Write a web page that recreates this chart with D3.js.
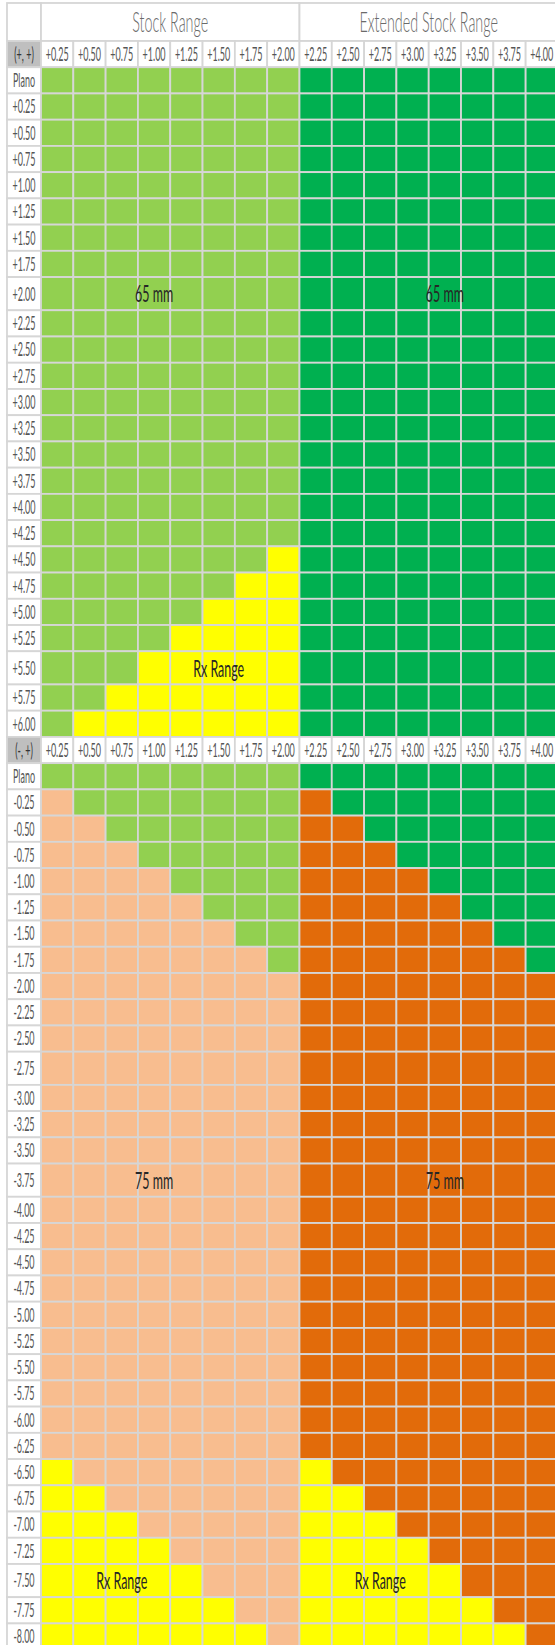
<!DOCTYPE html>
<html>
<head>
<meta charset="utf-8">
<script src="https://cdn.jsdelivr.net/npm/d3@7"></script>
<style>
  body { margin: 0; background: #fff; }
  svg { display: block; }
</style>
</head>
<body>
<div id="chart"></div>
<script>
// ---- data ----
const sectionTitles = ['Stock Range', 'Extended Stock Range'];
const stockCols = ['+0.25', '+0.50', '+0.75', '+1.00', '+1.25', '+1.50', '+1.75', '+2.00'];
const extendedCols = ['+2.25', '+2.50', '+2.75', '+3.00', '+3.25', '+3.50', '+3.75', '+4.00'];

// (+, +) block: one code per column, L = stock 65mm, G = extended 65mm, Y = Rx range
const plusHeader = '(+, +)';
const plusRows = ['Plano', '+0.25', '+0.50', '+0.75', '+1.00', '+1.25', '+1.50', '+1.75', '+2.00',
  '+2.25', '+2.50', '+2.75', '+3.00', '+3.25', '+3.50', '+3.75', '+4.00', '+4.25',
  '+4.50', '+4.75', '+5.00', '+5.25', '+5.50', '+5.75', '+6.00'];
const plusCells = [
  'LLLLLLLLGGGGGGGG', 'LLLLLLLLGGGGGGGG', 'LLLLLLLLGGGGGGGG', 'LLLLLLLLGGGGGGGG',
  'LLLLLLLLGGGGGGGG', 'LLLLLLLLGGGGGGGG', 'LLLLLLLLGGGGGGGG', 'LLLLLLLLGGGGGGGG',
  'LLLLLLLLGGGGGGGG', 'LLLLLLLLGGGGGGGG', 'LLLLLLLLGGGGGGGG', 'LLLLLLLLGGGGGGGG',
  'LLLLLLLLGGGGGGGG', 'LLLLLLLLGGGGGGGG', 'LLLLLLLLGGGGGGGG', 'LLLLLLLLGGGGGGGG',
  'LLLLLLLLGGGGGGGG', 'LLLLLLLLGGGGGGGG',
  'LLLLLLLYGGGGGGGG', 'LLLLLLYYGGGGGGGG', 'LLLLLYYYGGGGGGGG', 'LLLLYYYYGGGGGGGG',
  'LLLYYYYYGGGGGGGG', 'LLYYYYYYGGGGGGGG', 'LYYYYYYYGGGGGGGG'
];

// (-, +) block: P = stock 75mm, O = extended 75mm
const minusHeader = '(-, +)';
const minusRows = ['Plano', '-0.25', '-0.50', '-0.75', '-1.00', '-1.25', '-1.50', '-1.75',
  '-2.00', '-2.25', '-2.50', '-2.75', '-3.00', '-3.25', '-3.50', '-3.75', '-4.00', '-4.25',
  '-4.50', '-4.75', '-5.00', '-5.25', '-5.50', '-5.75', '-6.00', '-6.25',
  '-6.50', '-6.75', '-7.00', '-7.25', '-7.50', '-7.75', '-8.00'];
const minusCells = [
  'LLLLLLLLGGGGGGGG', 'PLLLLLLLOGGGGGGG', 'PPLLLLLLOOGGGGGG', 'PPPLLLLLOOOGGGGG',
  'PPPPLLLLOOOOGGGG', 'PPPPPLLLOOOOOGGG', 'PPPPPPLLOOOOOOGG', 'PPPPPPPLOOOOOOOG',
  'PPPPPPPPOOOOOOOO', 'PPPPPPPPOOOOOOOO', 'PPPPPPPPOOOOOOOO', 'PPPPPPPPOOOOOOOO',
  'PPPPPPPPOOOOOOOO', 'PPPPPPPPOOOOOOOO', 'PPPPPPPPOOOOOOOO', 'PPPPPPPPOOOOOOOO',
  'PPPPPPPPOOOOOOOO', 'PPPPPPPPOOOOOOOO', 'PPPPPPPPOOOOOOOO', 'PPPPPPPPOOOOOOOO',
  'PPPPPPPPOOOOOOOO', 'PPPPPPPPOOOOOOOO', 'PPPPPPPPOOOOOOOO', 'PPPPPPPPOOOOOOOO',
  'PPPPPPPPOOOOOOOO', 'PPPPPPPPOOOOOOOO',
  'YPPPPPPPYOOOOOOO', 'YYPPPPPPYYOOOOOO', 'YYYPPPPPYYYOOOOO', 'YYYYPPPPYYYYOOOO',
  'YYYYYPPPYYYYYOOO', 'YYYYYYPPYYYYYYOO', 'YYYYYYYPYYYYYYYO'
];

// text sitting over the coloured zones
const zoneLabels = [
  { block: '+', row: '+2.00', col: '+1.00', text: '65 mm' },
  { block: '+', row: '+2.00', col: '+3.25', text: '65 mm' },
  { block: '+', row: '+5.50', col: '+1.50', text: 'Rx Range' },
  { block: '-', row: '-3.75', col: '+1.00', text: '75 mm' },
  { block: '-', row: '-3.75', col: '+3.25', text: '75 mm' },
  { block: '-', row: '-7.50', col: '+0.75', text: 'Rx Range' },
  { block: '-', row: '-7.50', col: '+2.75', text: 'Rx Range' }
];

// ---- layout / style ----
const W = 555, H = 1645;
const FONT = 'Lato, "Open Sans", sans-serif';
const gridLeft = 7, gridTop = 3, headW = 34, colW = 32.31;
const titleH = 38, rowH = 26.23, tallH = 33.2;
const tallRows = new Set(['+2.00', '+5.50', '-2.75', '-3.75', '-7.50']);
const gridColor = '#d6d6d6';
const codeColor = { L: '#92d050', G: '#00b050', Y: '#ffff00', P: '#f8bd8f', O: '#e26b0a' };

const svg = d3.select('#chart').append('svg')
  .attr('width', W)
  .attr('height', H)
  .attr('viewBox', `0 0 ${W} ${H}`);

svg.append('rect').attr('width', W).attr('height', H).attr('fill', '#fff');

// Row list: title, header, data rows of each block
const rows = [{ key: 'title', kind: 'title' }]
  .concat([{ key: '+hdr', kind: 'header', label: plusHeader }])
  .concat(plusRows.map((r, i) => ({ key: '+' + r, kind: 'data', label: r, codes: plusCells[i] })))
  .concat([{ key: '-hdr', kind: 'header', label: minusHeader }])
  .concat(minusRows.map((r, i) => ({ key: '-' + r, kind: 'data', label: r, codes: minusCells[i] })));

const heights = rows.map(r => r.kind === 'title' ? titleH : (tallRows.has(r.label) ? tallH : rowH));
const tops = Array.from(d3.cumsum([gridTop].concat(heights))).slice(0, rows.length);

const y = d3.scaleOrdinal().domain(rows.map(r => r.key)).range(tops);
const rh = d3.scaleOrdinal().domain(rows.map(r => r.key)).range(heights);

const allCols = stockCols.concat(extendedCols);
const x = d3.scaleBand()
  .domain(allCols)
  .range([gridLeft + headW, gridLeft + headW + allCols.length * colW])
  .paddingInner(0);

// measure helper -> horizontal squeeze so text matches the sheet's narrow face
function squeeze(sample, size, weight, target) {
  const t = svg.append('text')
    .attr('font-family', FONT).attr('font-size', size).attr('font-weight', weight)
    .text(sample);
  const w = t.node().getComputedTextLength();
  t.remove();
  return target / w;
}
const labelSize = 19, titleSize = 27, zoneSize = 24;
const sxLabel = squeeze('+0.25', labelSize, 400, 23);
const sxTitle = squeeze('Stock Range', titleSize, 300, 76);
const sxZone = squeeze('Rx Range', zoneSize, 400, 51);

// ---- cells ----
const cells = [];
rows.forEach(r => {
  const yy = y(r.key), hh = rh(r.key);
  if (r.kind === 'title') {
    cells.push({ x: gridLeft, y: yy, w: headW, h: hh, fill: '#fff' });
    [stockCols, extendedCols].forEach((cols, i) => {
      const x0 = x(cols[0]), x1 = x(cols[cols.length - 1]) + x.bandwidth();
      cells.push({ x: x0, y: yy, w: x1 - x0, h: hh, fill: '#fff',
        text: sectionTitles[i], kind: 'title' });
    });
  } else if (r.kind === 'header') {
    cells.push({ x: gridLeft, y: yy, w: headW, h: hh, fill: '#bfbfbf', text: r.label, kind: 'corner' });
    allCols.forEach(c => cells.push({ x: x(c), y: yy, w: x.bandwidth(), h: hh, fill: '#fff',
      text: c, kind: 'label' }));
  } else {
    cells.push({ x: gridLeft, y: yy, w: headW, h: hh, fill: '#fff', text: r.label, kind: 'label' });
    allCols.forEach((c, i) => cells.push({ x: x(c), y: yy, w: x.bandwidth(), h: hh,
      fill: codeColor[r.codes[i]] }));
  }
});

svg.append('g').attr('class', 'cells')
  .selectAll('rect')
  .data(cells)
  .join('rect')
  .attr('x', d => d.x)
  .attr('y', d => d.y)
  .attr('width', d => d.w)
  .attr('height', d => d.h)
  .attr('fill', d => d.fill)
  .attr('stroke', gridColor)
  .attr('stroke-width', 1.8);

// ---- cell texts ----
const textStyle = {
  title: { size: titleSize, weight: 300, color: '#6a6a6a', sx: sxTitle },
  label: { size: labelSize, weight: 400, color: '#555', sx: sxLabel },
  corner: { size: labelSize, weight: 400, color: '#333', sx: sxLabel }
};

svg.append('g').attr('class', 'cell-text')
  .selectAll('text')
  .data(cells.filter(d => d.text))
  .join('text')
  .attr('transform', d => `translate(${d.x + d.w / 2},${d.y + d.h / 2}) scale(${textStyle[d.kind].sx},1)`)
  .attr('text-anchor', 'middle')
  .attr('dy', '0.36em')
  .attr('font-family', FONT)
  .attr('font-size', d => textStyle[d.kind].size)
  .attr('font-weight', d => textStyle[d.kind].weight)
  .attr('fill', d => textStyle[d.kind].color)
  .text(d => d.text);

// ---- zone labels ----
svg.append('g').attr('class', 'zone-labels')
  .selectAll('text')
  .data(zoneLabels)
  .join('text')
  .attr('transform', d => {
    const key = d.block + d.row;
    return `translate(${x(d.col) + x.bandwidth() / 2},${y(key) + rh(key) / 2}) scale(${sxZone},1)`;
  })
  .attr('text-anchor', 'middle')
  .attr('dy', '0.36em')
  .attr('font-family', FONT)
  .attr('font-size', zoneSize)
  .attr('fill', '#262626')
  .text(d => d.text);
</script>
</body>
</html>
